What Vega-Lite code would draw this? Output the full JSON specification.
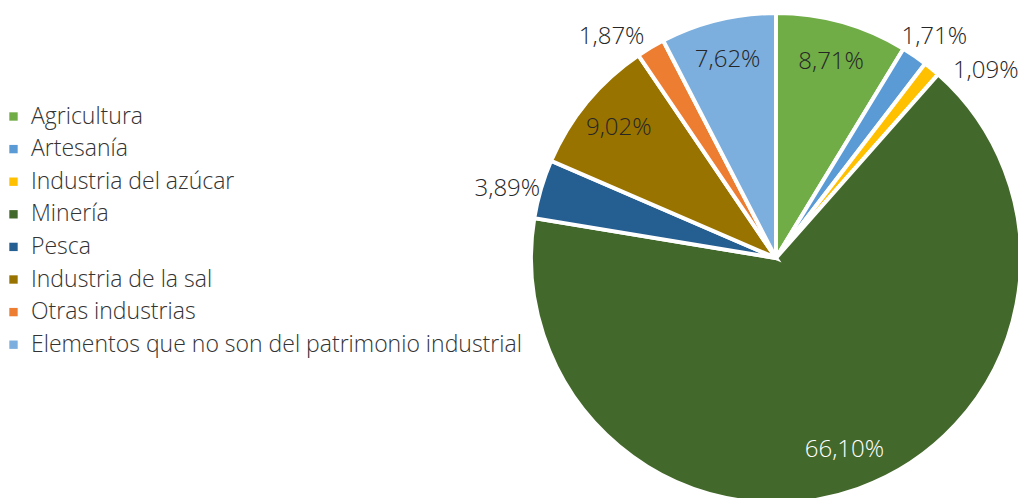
{
  "$schema": "https://vega.github.io/schema/vega-lite/v6.json",
  "width": 490,
  "height": 490,
  "autosize": {"type": "none"},
  "padding": {"left": 531, "top": 13, "right": 0, "bottom": 0},
  "background": "white",
  "config": {"view": {"stroke": null}, "font": "Open Sans"},
  "data": {
    "values": [
      {"idx": 1, "category": "Agricultura", "value": 8.71, "label": "8,71%"},
      {"idx": 2, "category": "Artesanía", "value": 1.71, "label": "1,71%"},
      {"idx": 3, "category": "Industria del azúcar", "value": 1.09, "label": "1,09%"},
      {"idx": 4, "category": "Minería", "value": 66.10, "label": "66,10%"},
      {"idx": 5, "category": "Pesca", "value": 3.89, "label": "3,89%"},
      {"idx": 6, "category": "Industria de la sal", "value": 9.02, "label": "9,02%"},
      {"idx": 7, "category": "Otras industrias", "value": 1.87, "label": "1,87%"},
      {"idx": 8, "category": "Elementos que no son del patrimonio industrial", "value": 7.62, "label": "7,62%"}
    ]
  },
  "encoding": {
    "theta": {"field": "value", "type": "quantitative", "stack": true},
    "order": {"field": "idx", "type": "quantitative"}
  },
  "layer": [
    {
      "mark": {"type": "arc", "outerRadius": 245, "stroke": "white", "strokeWidth": 4},
      "encoding": {
        "color": {
          "field": "category",
          "type": "nominal",
          "scale": {
            "domain": ["Agricultura", "Artesanía", "Industria del azúcar", "Minería", "Pesca", "Industria de la sal", "Otras industrias", "Elementos que no son del patrimonio industrial"],
            "range": ["#70AD47", "#5B9BD5", "#FFC000", "#43682B", "#255E91", "#997300", "#ED7D31", "#7CAFDD"]
          },
          "legend": {
            "title": null,
            "orient": "none",
            "legendX": -529,
            "legendY": 92,
            "symbolType": "square",
            "symbolSize": 70,
            "symbolStrokeWidth": 0,
            "labelFontSize": 23,
            "labelFontWeight": 300,
            "labelColor": "#333333",
            "labelFont": "Open Sans",
            "labelLimit": 600,
            "labelOffset": 6,
            "rowPadding": 8.6,
            "padding": 0
          }
        }
      }
    },
    {
      "mark": {"type": "text", "radius": 204, "fontSize": 24, "fontWeight": 300, "font": "Open Sans"},
      "encoding": {
        "text": {"condition": {"test": "datum.value > 5", "field": "label"}, "value": ""},
        "color": {"condition": {"test": "datum.value > 50", "value": "white"}, "value": "#262626"}
      }
    },
    {
      "mark": {"type": "text", "radius": 280, "dy": 10, "fontSize": 24, "fontWeight": 300, "font": "Open Sans", "color": "#262626"},
      "encoding": {
        "text": {"condition": {"test": "datum.value <= 5 && datum.category != 'Industria del azúcar' && datum.category != 'Otras industrias'", "field": "label"}, "value": ""}
      }
    },
    {
      "mark": {"type": "text", "radius": 278, "dx": 33, "dy": 28, "fontSize": 24, "fontWeight": 300, "font": "Open Sans", "color": "#262626"},
      "encoding": {
        "text": {"condition": {"test": "datum.category == 'Industria del azúcar'", "field": "label"}, "value": ""}
      }
    },
    {
      "mark": {"type": "text", "radius": 278, "dx": -22, "dy": 18, "fontSize": 24, "fontWeight": 300, "font": "Open Sans", "color": "#262626"},
      "encoding": {
        "text": {"condition": {"test": "datum.category == 'Otras industrias'", "field": "label"}, "value": ""}
      }
    }
  ]
}
